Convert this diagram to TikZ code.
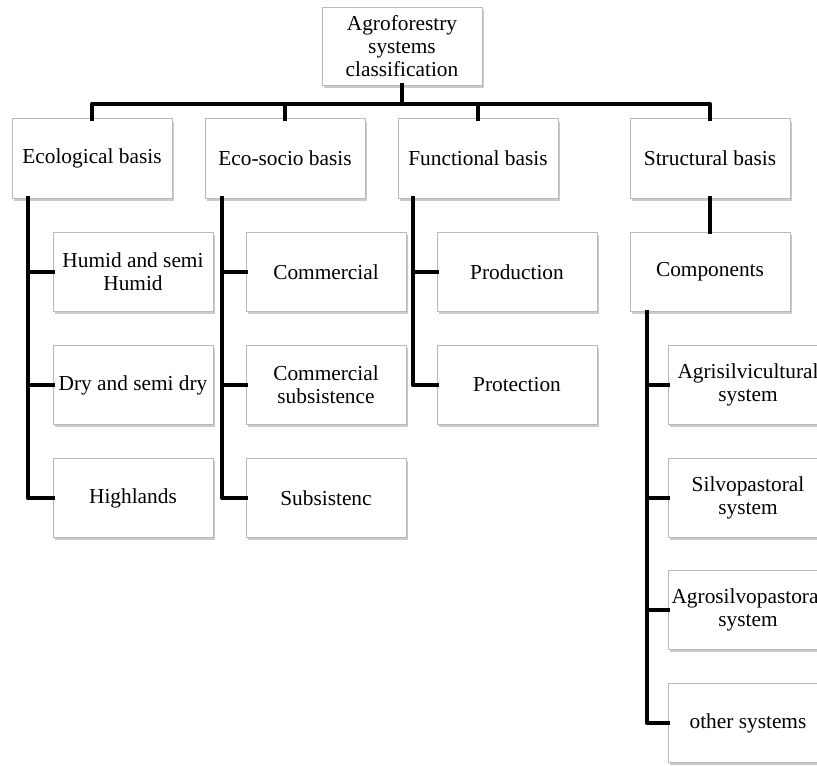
\documentclass[tikz,border=0pt]{standalone}
\usepackage{fontspec}
\setmainfont{Liberation Serif}
\usetikzlibrary{shadows}
\begin{document}
\begin{tikzpicture}[x=0.75pt,y=-0.75pt,
  box/.style={draw=gray!55, line width=0.6pt, fill=white,
    minimum width=120pt, minimum height=59.5pt, align=center,
    inner sep=1pt,
    font=\fontsize{16}{17}\selectfont,
    drop shadow={shadow xshift=1.6pt, shadow yshift=-2pt, fill=black!45, opacity=0.45}},
  link/.style={line width=3.6pt, line join=round, line cap=rect}]
\clip (0,0) rectangle (817,765);
\fill[white] (0,0) rectangle (817,765);
% top
\node[box, minimum height=58.5pt] (top) at (402,46) {Agroforestry\\systems\\classification};
% level 1
\node[box] (eco) at (92,158.5) {Ecological basis};
\node[box] (soc) at (285,158.5) {Eco-socio basis};
\node[box] (fun) at (478,158.5) {Functional basis};
\node[box] (str) at (710,158.5) {Structural basis};
% ecological children
\node[box] (hum) at (133,272) {Humid and semi\\Humid};
\node[box] (dry) at (133,385) {Dry and semi dry};
\node[box] (hig) at (133,498) {Highlands};
% eco-socio children
\node[box] (com) at (326,272) {Commercial};
\node[box] (cos) at (326,385) {Commercial\\subsistence};
\node[box] (sub) at (326,498) {Subsistenc};
% functional children
\node[box] (pro) at (517,272) {Production};
\node[box] (prt) at (517,385) {Protection};
% structural
\node[box] (cmp) at (710,272) {Components};
\node[box] (agr) at (748,385) {Agrisilvicultural\\system};
\node[box] (sil) at (748,498) {Silvopastoral\\system};
\node[box] (ags) at (748,610) {Agrosilvopastoral\\system};
\node[box] (oth) at (748,723) {other systems};
% bus
\coordinate (bus) at (0,104);
\coordinate (ve) at (28,0);
\coordinate (vs) at (222,0);
\coordinate (vf) at (413,0);
\coordinate (vc) at (647,0);
\draw[link] (top.south) -- (top.south |- bus);
\draw[link] (eco.north) -- (eco.north |- bus) -| (str.north);
\draw[link] (soc.north) -- (soc.north |- bus);
\draw[link] (fun.north) -- (fun.north |- bus);
\draw[link] (str.south) -- (cmp.north);
% ecological
\draw[link] (ve |- eco.south) |- (hig.west);
\draw[link] (ve |- hum.west) -- (hum.west);
\draw[link] (ve |- dry.west) -- (dry.west);
% eco-socio
\draw[link] (vs |- soc.south) |- (sub.west);
\draw[link] (vs |- com.west) -- (com.west);
\draw[link] (vs |- cos.west) -- (cos.west);
% functional
\draw[link] (vf |- fun.south) |- (prt.west);
\draw[link] (vf |- pro.west) -- (pro.west);
% components
\draw[link] (vc |- cmp.south) |- (oth.west);
\draw[link] (vc |- agr.west) -- (agr.west);
\draw[link] (vc |- sil.west) -- (sil.west);
\draw[link] (vc |- ags.west) -- (ags.west);
\end{tikzpicture}
\end{document}
